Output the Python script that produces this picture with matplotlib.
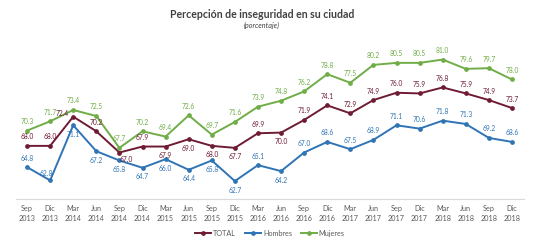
import matplotlib
matplotlib.use("Agg")
import matplotlib.pyplot as plt
from matplotlib.lines import Line2D

periods = ["Sep\n2013", "Dic\n2013", "Mar\n2014", "Jun\n2014", "Sep\n2014", "Dic\n2014",
           "Mar\n2015", "Jun\n2015", "Sep\n2015", "Dic\n2015", "Mar\n2016", "Jun\n2016",
           "Sep\n2016", "Dic\n2016", "Mar\n2017", "Jun\n2017", "Sep\n2017", "Dic\n2017",
           "Mar\n2018", "Jun\n2018", "Sep\n2018", "Dic\n2018"]

total = [68.0, 68.0, 72.4, 70.2, 67.0, 67.9, 67.9, 69.0, 68.0, 67.7, 69.9, 70.0,
         71.9, 74.1, 72.9, 74.9, 76.0, 75.9, 76.8, 75.9, 74.9, 73.7]
hombres = [64.8, 62.8, 71.1, 67.2, 65.8, 64.7, 66.0, 64.4, 65.8, 62.7, 65.1, 64.2,
           67.0, 68.6, 67.5, 68.9, 71.1, 70.6, 71.8, 71.3, 69.2, 68.6]
mujeres = [70.3, 71.7, 73.4, 72.5, 67.7, 70.2, 69.4, 72.6, 69.7, 71.6, 73.9, 74.8,
           76.2, 78.8, 77.5, 80.2, 80.5, 80.5, 81.0, 79.6, 79.7, 78.0]

# label placement codes (style)
pos_total = ['a', 'a', 'l', 'a', 'br', 'a', 'b', 'b', 'b', 'b', 'a', 'b',
             'a', 'a', 'a', 'a', 'a', 'a', 'a', 'a', 'a', 'a']
pos_hombres = ['a', 'al', 'b', 'b', 'b', 'b', 'b', 'b', 'b', 'b', 'a', 'b',
               'a', 'a', 'a', 'a', 'a', 'a', 'a', 'a', 'a', 'a']
pos_mujeres = ['a'] * len(periods)

c_total = "#6E1B33"
c_hom = "#2F74B5"
c_muj = "#70AD47"

plt.rcParams['font.family'] = ['Lato', 'DejaVu Sans']

fig = plt.figure(figsize=(5.36, 2.43), dpi=100)
ax = fig.add_axes([15.5 / 536, 44 / 243, 508 / 536, 166 / 243])

x = list(range(len(periods)))
offsets = {'a': (0, 6.5), 'b': (0, -6.5), 'l': (-8, 2), 'br': (5, -5), 'al': (-3, 5)}

for vals, pos, col, name in [(total, pos_total, c_total, "TOTAL"),
                             (hombres, pos_hombres, c_hom, "Hombres"),
                             (mujeres, pos_mujeres, c_muj, "Mujeres")]:
    ax.plot(x, vals, color=col, lw=1.4, marker='o', ms=2.4, label=name)
    for xi, v, p in zip(x, vals, pos):
        dx, dy = offsets[p]
        ax.annotate(f"{v:.1f}", (xi, v), xytext=(dx, dy), textcoords='offset points',
                    ha='center', va='center', fontsize=4.8, color=col)

ax.set_xlim(-0.5, len(periods) - 0.5)
ax.set_ylim(60, 85)
ax.set_yticks([])
ax.set_xticks(x)
ax.set_xticklabels(periods, fontsize=5.2, color="#595959", linespacing=1.5)
ax.tick_params(axis='x', length=0, pad=4)
for s in ['top', 'right', 'left']:
    ax.spines[s].set_visible(False)
ax.spines['bottom'].set_color("#D9D9D9")
ax.spines['bottom'].set_linewidth(0.8)

fig.text(262 / 536, 1 - 14 / 243, "Percepción de inseguridad en su ciudad", ha='center', va='center',
         fontsize=7.6, fontweight='bold', color="#404040")
fig.text(262 / 536, 1 - 25 / 243, "(porcentaje)", ha='center', va='center',
         fontsize=5.2, style='italic', color="#404040")

handles = [Line2D([0], [0], color=c, lw=1.4, marker='o', ms=2.4) for c in (c_total, c_hom, c_muj)]
fig.legend(handles, ["TOTAL", "Hombres", "Mujeres"], loc='center', bbox_to_anchor=(270 / 536, 1 - 233 / 243),
           ncol=3, frameon=False, fontsize=5.2, handlelength=2.2, columnspacing=1.2, handletextpad=0.3,
           labelcolor="#595959")

fig.savefig("out.png", dpi=100, facecolor='white')
